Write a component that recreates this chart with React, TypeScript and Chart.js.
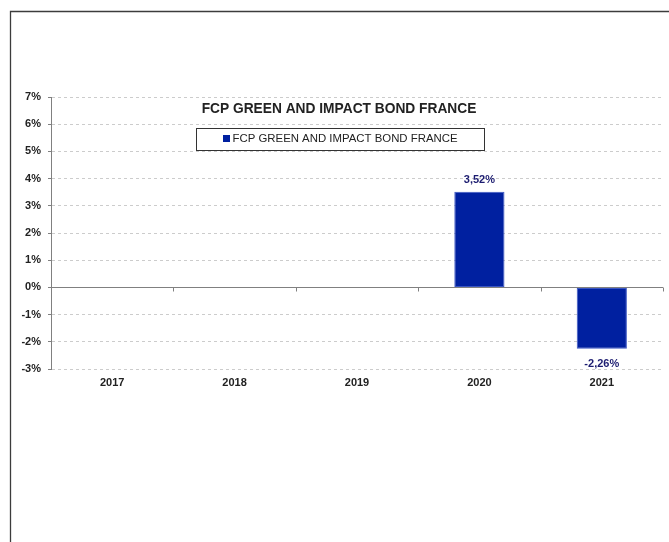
import React, { useEffect, useRef } from "react";
import { Chart, registerables } from "chart.js";

Chart.register(...registerables);

const categories = ["2017", "2018", "2019", "2020", "2021"];
const seriesValues: (number | null)[] = [null, null, null, 3.52, -2.26];
const seriesName = "FCP GREEN AND IMPACT BOND FRANCE";
const chartTitle = "FCP GREEN AND IMPACT BOND FRANCE";
const yMin = -3;
const yMax = 7;
const yStep = 1;

const BAR_COLOR = "#0020A0";
const LABEL_COLOR = "#1C1C70";
const FONT = "Arial, 'Liberation Sans', sans-serif";

const fmt = (v: number) => v.toFixed(2).replace(".", ",") + "%";

const overlayPlugin = {
  id: "overlay",
  beforeDraw(chart: any) {
    const ctx = chart.ctx;
    ctx.save();
    ctx.fillStyle = "#ffffff";
    ctx.fillRect(0, 0, chart.width, chart.height);
    ctx.strokeStyle = "#3c3c3c";
    ctx.lineWidth = 1.3;
    ctx.beginPath();
    ctx.moveTo(10.5, chart.height);
    ctx.lineTo(10.5, 11.5);
    ctx.lineTo(chart.width, 11.5);
    ctx.stroke();
    ctx.restore();
  },
  afterDatasetsDraw(chart: any) {
    const ctx = chart.ctx;
    const area = chart.chartArea;
    const y = chart.scales.y;
    const y0 = Math.round(y.getPixelForValue(0)) + 0.5;
    ctx.save();
    ctx.strokeStyle = "#808080";
    ctx.lineWidth = 1;
    ctx.beginPath();
    ctx.moveTo(area.left, y0);
    ctx.lineTo(area.right, y0);
    const n = categories.length;
    const w = (area.right - area.left) / n;
    for (let i = 1; i <= n; i++) {
      const px = Math.round(area.left + i * w) + 0.5;
      ctx.moveTo(px, y0);
      ctx.lineTo(px, y0 + 4);
    }
    ctx.stroke();

    // data labels
    const meta = chart.getDatasetMeta(0);
    ctx.font = `bold 11px ${FONT}`;
    ctx.fillStyle = LABEL_COLOR;
    ctx.textAlign = "center";
    ctx.textBaseline = "middle";
    meta.data.forEach((bar: any, i: number) => {
      const v = seriesValues[i];
      if (v === null || v === undefined) return;
      const py = v >= 0 ? bar.y - 12 : bar.y + 15;
      ctx.fillText(fmt(v), bar.x, py);
    });
    ctx.restore();
  },
  afterDraw(chart: any) {
    const ctx = chart.ctx;
    ctx.save();
    // title
    ctx.font = `bold 13.75px ${FONT}`;
    ctx.fillStyle = "#222222";
    ctx.textAlign = "center";
    ctx.textBaseline = "middle";
    ctx.fillText(chartTitle, 339, 109);
    // legend box
    ctx.fillStyle = "#ffffff";
    ctx.fillRect(196, 128, 288, 22);
    ctx.strokeStyle = "#333333";
    ctx.lineWidth = 1;
    ctx.strokeRect(196.5, 128.5, 288, 22);
    ctx.fillStyle = BAR_COLOR;
    ctx.fillRect(223, 135, 7, 7);
    ctx.font = `11.4px ${FONT}`;
    ctx.fillStyle = "#222222";
    ctx.textAlign = "left";
    ctx.fillText(seriesName, 232.5, 139);
    ctx.restore();
  },
};

export default function App() {
  const ref = useRef<HTMLCanvasElement | null>(null);

  useEffect(() => {
    if (!ref.current) return;
    const chart = new Chart(ref.current, {
      type: "bar",
      data: {
        labels: categories,
        datasets: [
          {
            label: seriesName,
            data: seriesValues as any,
            backgroundColor: BAR_COLOR,
            borderColor: "#3a56c4",
            borderWidth: 1,
            borderSkipped: false,
            barPercentage: 0.41,
            categoryPercentage: 1,
          },
        ],
      },
      options: {
        animation: false,
        responsive: false,
        maintainAspectRatio: false,
        layout: { padding: { left: 0, top: 97, right: 6, bottom: 0 } },
        plugins: {
          legend: { display: false },
          title: { display: false },
          tooltip: { enabled: false },
        },
        scales: {
          x: {
            grid: { display: false, drawTicks: false },
            border: { display: false },
            ticks: {
              color: "#222222",
              font: { family: FONT, size: 11, weight: "bold" },
              padding: 7,
              maxRotation: 0,
            },
            afterFit(scale: any) {
              scale.height = 173;
            },
          },
          y: {
            min: yMin,
            max: yMax,
            grid: {
              color: "#cccccc",
              drawTicks: true,
              tickLength: 3,
              tickColor: "#808080",
              tickBorderDash: [4, 0],
            },
            border: { display: true, color: "#808080", dash: [3, 3] },
            ticks: {
              stepSize: yStep,
              color: "#222222",
              font: { family: FONT, size: 11, weight: "bold" },
              padding: 7,
              callback: (v: any) => `${v}%`,
            },
            afterFit(scale: any) {
              scale.width = 51;
            },
          },
        },
      },
      plugins: [overlayPlugin],
    });
    return () => chart.destroy();
  }, []);

  return (
    <div style={{ position: "fixed", left: 0, top: 0, width: 669, height: 542 }}>
      <canvas ref={ref} width={669} height={542} style={{ width: 669, height: 542 }} />
    </div>
  );
}
